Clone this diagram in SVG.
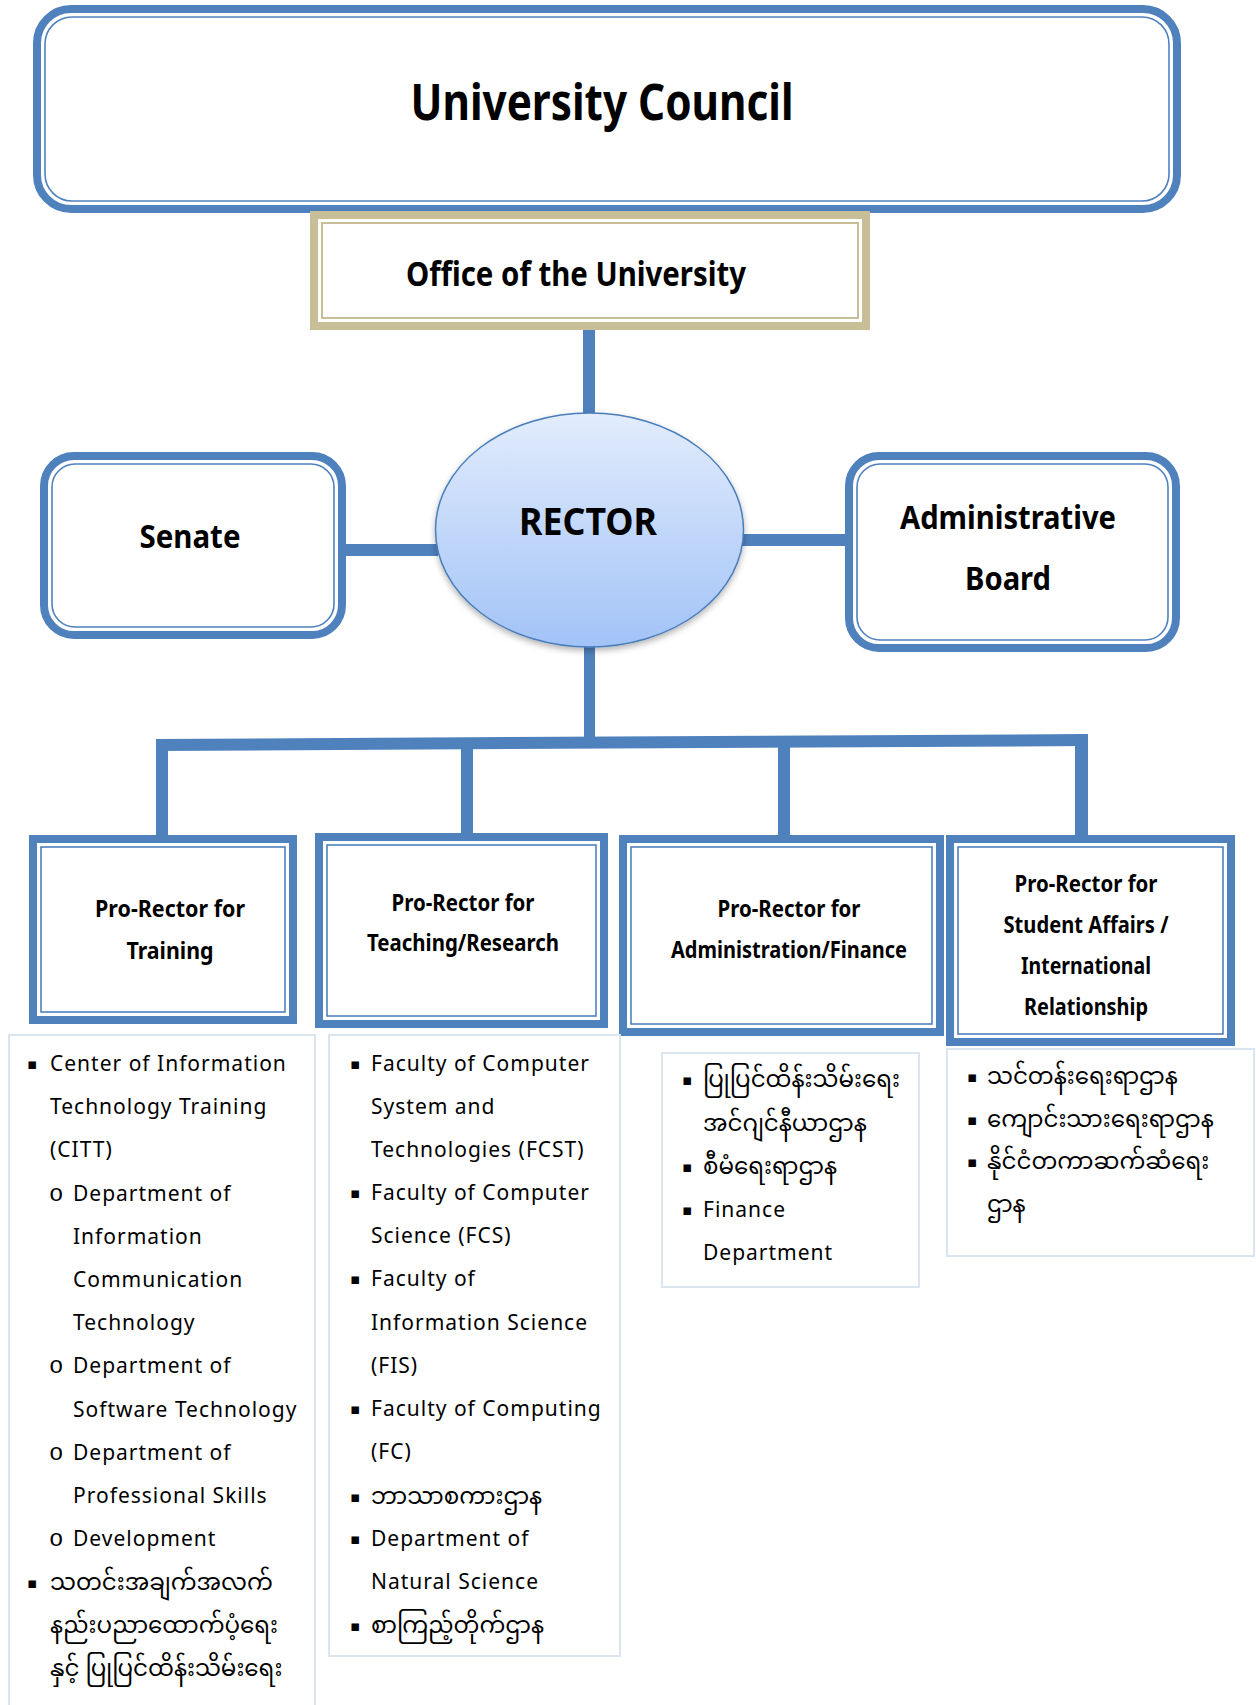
<svg xmlns="http://www.w3.org/2000/svg" width="1256" height="1705" viewBox="0 0 1256 1705">
<style>
.bt{fill:#fff;stroke:#4F81BD;stroke-width:8}
.bn{fill:none;stroke:#4F81BD;stroke-width:1.6}
.tt{fill:#fff;stroke:#C8BE98;stroke-width:8}
.tn{fill:none;stroke:#C8BE98;stroke-width:2}
.lbl{font-family:"Noto Sans","Open Sans",sans-serif;font-weight:700;fill:#000;text-anchor:middle}
.pr{font-size:23px}
.li{font-family:"Noto Sans","Open Sans",sans-serif;font-size:21px;letter-spacing:1px;fill:#000}
.my{font-family:"Noto Sans Myanmar","Myanmar Text","Padauk","Noto Sans",sans-serif;font-size:23px;fill:#000}
.bul{font-family:"DejaVu Sans",sans-serif;font-size:15px;fill:#000}
.cir{font-family:"Liberation Mono",monospace;font-size:24px;fill:#000}
.panel{fill:#fff;stroke:#DBE5F1;stroke-width:2}
.conn{fill:#4F81BD}
</style>
<defs>
<linearGradient id="rg" x1="0" y1="0" x2="0" y2="1">
<stop offset="0" stop-color="#E2ECFC"/>
<stop offset="1" stop-color="#A2C3F7"/>
</linearGradient>
<filter id="sh" x="-10%" y="-10%" width="120%" height="125%">
<feDropShadow dx="0" dy="3" stdDeviation="3" flood-color="#000" flood-opacity="0.3"/>
</filter>
</defs>

<g id="connectors">
<rect class="conn" x="583" y="326" width="12" height="90"/>
<rect class="conn" x="344" y="544" width="94" height="12"/>
<rect class="conn" x="742" y="534" width="105" height="12"/>
<rect class="conn" x="584" y="645" width="11" height="98"/>
<polygon class="conn" points="156,739 1088,734 1088,746 156,751"/>
<rect class="conn" x="156" y="745" width="12" height="92"/>
<rect class="conn" x="461" y="743" width="12" height="99"/>
<rect class="conn" x="778" y="741" width="12" height="96"/>
<rect class="conn" x="1075" y="734" width="13" height="103"/>
</g>

<g id="university-council">
<rect class="bt" x="37" y="9" width="1140" height="200" rx="34"/>
<rect class="bn" x="45" y="17" width="1124" height="184" rx="27"/>
<text class="lbl" x="602" y="120" font-size="50" textLength="383" lengthAdjust="spacingAndGlyphs">University Council</text>
</g>

<g id="office">
<rect class="tt" x="314" y="215" width="552" height="111"/>
<rect class="tn" x="322" y="223" width="536" height="95"/>
<text class="lbl" x="576" y="286" font-size="34" textLength="340" lengthAdjust="spacingAndGlyphs">Office of the University</text>
</g>

<g id="rector">
<ellipse cx="589.5" cy="530" rx="154" ry="117" fill="url(#rg)" stroke="#4A7EBB" stroke-width="1.5" filter="url(#sh)"/>
<text class="lbl" x="588" y="535" font-size="38" textLength="138" lengthAdjust="spacingAndGlyphs">RECTOR</text>
</g>

<g id="senate">
<rect class="bt" x="44" y="456" width="298" height="179" rx="30"/>
<rect class="bn" x="52" y="464" width="282" height="163" rx="23"/>
<text class="lbl" x="190" y="548" font-size="33" textLength="101" lengthAdjust="spacingAndGlyphs">Senate</text>
</g>

<g id="administrative-board">
<rect class="bt" x="849" y="456" width="327" height="192" rx="30"/>
<rect class="bn" x="857" y="464" width="311" height="176" rx="23"/>
<text class="lbl" x="1008" y="529" font-size="33" textLength="216" lengthAdjust="spacingAndGlyphs">Administrative</text>
<text class="lbl" x="1008" y="590" font-size="33" textLength="86" lengthAdjust="spacingAndGlyphs">Board</text>
</g>

<g id="pro-rector-training">
<rect class="bt" x="33" y="839" width="260" height="181"/>
<rect class="bn" x="41" y="847" width="244" height="165"/>
<text class="lbl pr" x="170" y="917" textLength="150" lengthAdjust="spacingAndGlyphs">Pro-Rector for</text>
<text class="lbl pr" x="170" y="959" textLength="87" lengthAdjust="spacingAndGlyphs">Training</text>
</g>

<g id="pro-rector-teaching">
<rect class="bt" x="319" y="837" width="285" height="187"/>
<rect class="bn" x="327" y="845" width="269" height="171"/>
<text class="lbl pr" x="463" y="911" textLength="143" lengthAdjust="spacingAndGlyphs">Pro-Rector for</text>
<text class="lbl pr" x="463" y="951" textLength="192" lengthAdjust="spacingAndGlyphs">Teaching/Research</text>
</g>

<g id="pro-rector-admin">
<rect class="bt" x="623" y="839" width="317" height="193"/>
<rect class="bn" x="631" y="847" width="301" height="177"/>
<text class="lbl pr" x="789" y="917" textLength="143" lengthAdjust="spacingAndGlyphs">Pro-Rector for</text>
<text class="lbl pr" x="789" y="958" textLength="236" lengthAdjust="spacingAndGlyphs">Administration/Finance</text>
</g>

<g id="pro-rector-student">
<rect class="bt" x="950" y="839" width="281" height="203"/>
<rect class="bn" x="958" y="847" width="265" height="187"/>
<text class="lbl pr" x="1086" y="892" textLength="143" lengthAdjust="spacingAndGlyphs">Pro-Rector for</text>
<text class="lbl pr" x="1086" y="933" textLength="165" lengthAdjust="spacingAndGlyphs">Student Affairs /</text>
<text class="lbl pr" x="1086" y="974" textLength="130" lengthAdjust="spacingAndGlyphs">International</text>
<text class="lbl pr" x="1086" y="1015" textLength="124" lengthAdjust="spacingAndGlyphs">Relationship</text>
</g>

<g id="list-training">
<rect class="panel" x="9" y="1035" width="306" height="680"/>
<text class="bul" x="27" y="1069">▪</text>
<text class="li" x="50" y="1071">Center of Information</text>
<text class="li" x="50" y="1114">Technology Training</text>
<text class="li" x="50" y="1157">(CITT)</text>
<text class="cir" x="49" y="1201">o</text>
<text class="li" x="73" y="1201">Department of</text>
<text class="li" x="73" y="1244">Information</text>
<text class="li" x="73" y="1287">Communication</text>
<text class="li" x="73" y="1330">Technology</text>
<text class="cir" x="49" y="1373">o</text>
<text class="li" x="73" y="1373">Department of</text>
<text class="li" x="73" y="1417">Software Technology</text>
<text class="cir" x="49" y="1460">o</text>
<text class="li" x="73" y="1460">Department of</text>
<text class="li" x="73" y="1503">Professional Skills</text>
<text class="cir" x="49" y="1546">o</text>
<text class="li" x="73" y="1546">Development</text>
<text class="bul" x="27" y="1588">▪</text>
<text class="my" x="50" y="1590">သတင်းအချက်အလက်</text>
<text class="my" x="50" y="1633">နည်းပညာထောက်ပံ့ရေး</text>
<text class="my" x="50" y="1676">နှင့် ပြုပြင်ထိန်းသိမ်းရေး</text>
</g>

<g id="list-teaching">
<rect class="panel" x="329" y="1035" width="291" height="621"/>
<text class="bul" x="350" y="1069">▪</text>
<text class="li" x="371" y="1071">Faculty of Computer</text>
<text class="li" x="371" y="1114">System and</text>
<text class="li" x="371" y="1157">Technologies (FCST)</text>
<text class="bul" x="350" y="1198">▪</text>
<text class="li" x="371" y="1200">Faculty of Computer</text>
<text class="li" x="371" y="1243">Science (FCS)</text>
<text class="bul" x="350" y="1284">▪</text>
<text class="li" x="371" y="1286">Faculty of</text>
<text class="li" x="371" y="1330">Information Science</text>
<text class="li" x="371" y="1373">(FIS)</text>
<text class="bul" x="350" y="1414">▪</text>
<text class="li" x="371" y="1416">Faculty of Computing</text>
<text class="li" x="371" y="1459">(FC)</text>
<text class="bul" x="350" y="1502">▪</text>
<text class="my" x="371" y="1504">ဘာသာစကားဌာန</text>
<text class="bul" x="350" y="1544">▪</text>
<text class="li" x="371" y="1546">Department of</text>
<text class="li" x="371" y="1589">Natural Science</text>
<text class="bul" x="350" y="1631">▪</text>
<text class="my" x="371" y="1633">စာကြည့်တိုက်ဌာန</text>
</g>

<g id="list-admin">
<rect class="panel" x="662" y="1053" width="257" height="234"/>
<text class="bul" x="682" y="1085">▪</text>
<text class="my" x="703" y="1087">ပြုပြင်ထိန်းသိမ်းရေး</text>
<text class="my" x="703" y="1131">အင်ဂျင်နီယာဌာန</text>
<text class="bul" x="682" y="1172">▪</text>
<text class="my" x="703" y="1174">စီမံရေးရာဌာန</text>
<text class="bul" x="682" y="1215">▪</text>
<text class="li" x="703" y="1217" letter-spacing="0.3">Finance</text>
<text class="li" x="703" y="1260" letter-spacing="0.3">Department</text>
</g>

<g id="list-student">
<rect class="panel" x="947" y="1049" width="307" height="207"/>
<text class="bul" x="967" y="1082">▪</text>
<text class="my" x="987" y="1084">သင်တန်းရေးရာဌာန</text>
<text class="bul" x="967" y="1125">▪</text>
<text class="my" x="987" y="1127">ကျောင်းသားရေးရာဌာန</text>
<text class="bul" x="967" y="1167">▪</text>
<text class="my" x="987" y="1169">နိုင်ငံတကာဆက်ဆံရေး</text>
<text class="my" x="987" y="1212">ဌာန</text>
</g>
</svg>
